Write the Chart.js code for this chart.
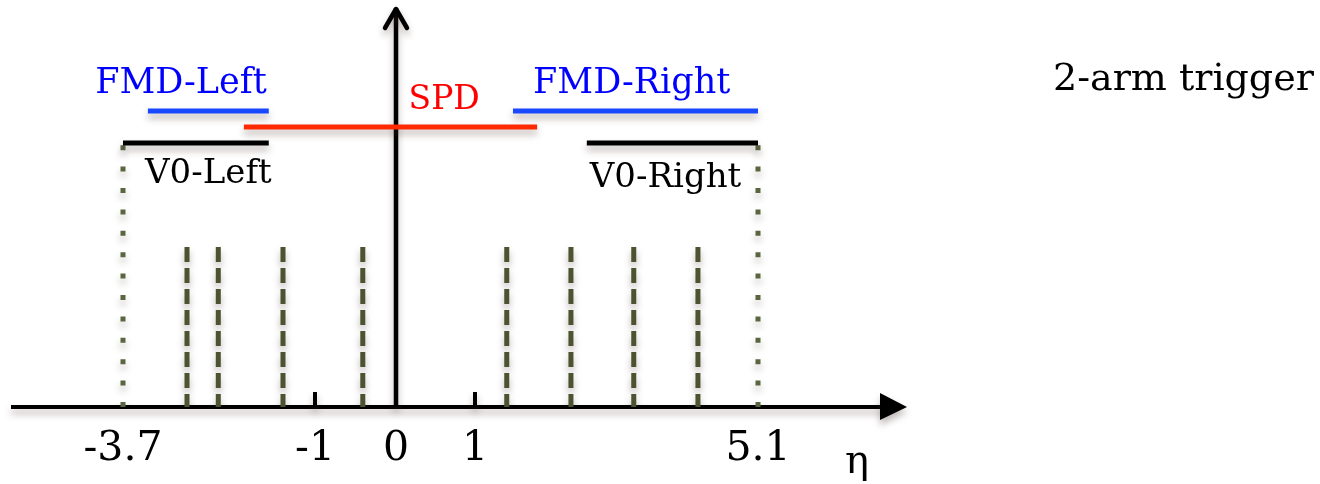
<!DOCTYPE html>
<html>
<head>
<meta charset="utf-8">
<script src="https://cdn.jsdelivr.net/npm/chart.js@4/dist/chart.umd.min.js"></script>
<style>
  html, body { margin: 0; padding: 0; background: #fff; }
  #wrap { width: 1320px; height: 484px; position: relative; }
</style>
</head>
<body>
<div id="wrap"><canvas id="myChart"></canvas></div>
<script>
// detector coverage in pseudorapidity
const detectors = ['FMD-Left', 'SPD', 'FMD-Right', 'V0-Left', 'V0-Right'];
const etaFrom = [-3.35, -2.0, 1.55, -3.7, 2.62];
const etaTo = [-1.65, 1.9, 5.1, -1.65, 5.1];
const level = [74, 70, 74, 66, 66];
const lineColors = ['#1848ff', '#ff2a00', '#1848ff', '#000000', '#000000'];
const textColors = ['#0000ff', '#ff0000', '#0000ff', '#000000', '#000000'];

// where each name sits (eta, height)
const labelEta = [-2.885, 0.61, 3.27, -2.5, 3.76];
const labelY = [78.5, 74.5, 78.5, 56, 55];

// ring boundaries (dashed) and outer edges (dotted)
const ringEta = [-2.8, -2.36, -1.45, -0.41, 1.46, 2.39, 3.3, 4.23];
const ringTop = 40;
const edgeEta = [-3.7, 5.1];
const edgeTop = 66;

const tickEta = [-3.7, -1, 0, 1, 5.1];
const tickLabels = ['-3.7', '-1', '0', '1', '5.1'];

const serif = "'DejaVu Serif', 'Liberation Serif', serif";

// the eta axis is drawn squeezed past |eta| = 1: piecewise map eta -> drawing span
const spanStops = [-3.4125, -1.0125, 0, 0.9875, 4.525];
function etaToSpan(v) {
  const k = tickEta, s = spanStops;
  let i = 0;
  if (v >= k[k.length - 1]) i = k.length - 2;
  else while (i < k.length - 2 && v > k[i + 1]) i++;
  return s[i] + (v - k[i]) * (s[i + 1] - s[i]) / (k[i + 1] - k[i]);
}
function spanToEta(u) {
  const k = tickEta, s = spanStops;
  let i = 0;
  if (u >= s[s.length - 1]) i = s.length - 2;
  else while (i < s.length - 2 && u > s[i + 1]) i++;
  return k[i] + (u - s[i]) * (k[i + 1] - k[i]) / (s[i + 1] - s[i]);
}

class EtaScale extends Chart.LinearScale {
  getPixelForValue(value) {
    return super.getPixelForValue(etaToSpan(value));
  }
  getValueForPixel(pixel) {
    return spanToEta(super.getValueForPixel(pixel));
  }
}
EtaScale.id = 'eta';
EtaScale.defaults = Chart.LinearScale.defaults;
Chart.register(EtaScale);

const datasets = [];
detectors.forEach(function(name, i) {
  datasets.push({
    label: name,
    data: [{x: etaFrom[i], y: level[i]}, {x: etaTo[i], y: level[i]}],
    borderColor: lineColors[i],
    borderWidth: 5,
    borderCapStyle: 'butt'
  });
});
ringEta.forEach(function(e) {
  datasets.push({
    label: 'ring',
    data: [{x: e, y: ringTop}, {x: e, y: 0}],
    borderColor: '#4b5330',
    borderWidth: 5,
    borderDash: [15, 6],
    borderCapStyle: 'butt'
  });
});
edgeEta.forEach(function(e) {
  datasets.push({
    label: 'edge',
    data: [{x: e, y: 0}, {x: e, y: edgeTop}],
    borderColor: '#5a6640',
    borderWidth: 5,
    borderDash: [5, 16.4],
    borderCapStyle: 'butt'
  });
});

function shadow(ctx) {
  ctx.shadowColor = 'rgba(70, 50, 40, 0.35)';
  ctx.shadowBlur = 7;
  ctx.shadowOffsetX = 0;
  ctx.shadowOffsetY = 5;
}

const sketch = {
  id: 'sketch',
  beforeDatasetsDraw(chart) {
    const ctx = chart.ctx;
    const xs = chart.scales.x, ys = chart.scales.y;
    const a = chart.chartArea;
    const x0 = xs.getPixelForValue(0);
    const y0 = ys.getPixelForValue(0);
    ctx.save();
    shadow(ctx);
    ctx.strokeStyle = '#000';
    ctx.fillStyle = '#000';
    // horizontal axis with filled head
    ctx.lineWidth = 4;
    ctx.beginPath();
    ctx.moveTo(a.left, y0);
    ctx.lineTo(a.right - 22, y0);
    ctx.stroke();
    ctx.beginPath();
    ctx.moveTo(a.right - 27, y0 - 14);
    ctx.lineTo(a.right, y0);
    ctx.lineTo(a.right - 27, y0 + 13);
    ctx.closePath();
    ctx.fill();
    // small ticks at +-1
    [-1, 1].forEach(function(v) {
      const px = xs.getPixelForValue(v);
      ctx.beginPath();
      ctx.moveTo(px, y0);
      ctx.lineTo(px, y0 - 15);
      ctx.stroke();
    });
    // vertical axis with open head
    ctx.lineWidth = 4.5;
    ctx.beginPath();
    ctx.moveTo(x0, y0);
    ctx.lineTo(x0, a.top + 1);
    ctx.stroke();
    ctx.lineJoin = 'round';
    ctx.lineCap = 'round';
    ctx.beginPath();
    ctx.moveTo(x0 - 11, a.top + 21);
    ctx.lineTo(x0, a.top + 2);
    ctx.lineTo(x0 + 11, a.top + 21);
    ctx.stroke();
    ctx.restore();
    ctx.save();
    shadow(ctx);
  },
  afterDatasetsDraw(chart) {
    const ctx = chart.ctx;
    ctx.restore();
    const xs = chart.scales.x, ys = chart.scales.y;
    ctx.save();
    ctx.textBaseline = 'alphabetic';
    ctx.textAlign = 'center';
    detectors.forEach(function(name, i) {
      ctx.font = (name.indexOf('FMD') === 0 ? 35 : name === 'SPD' ? 33 : 34) + 'px ' + serif;
      ctx.fillStyle = textColors[i];
      ctx.fillText(name, xs.getPixelForValue(labelEta[i]), ys.getPixelForValue(labelY[i]));
    });
    ctx.fillStyle = '#000';
    ctx.font = '40px ' + serif;
    ctx.fillText('η', chart.chartArea.right - 50, ys.getPixelForValue(0) + 66);
    ctx.textAlign = 'left';
    ctx.font = '38px ' + serif;
    ctx.fillText('2-arm trigger', 1053, 90);
    ctx.restore();
  }
};

const ctx = document.getElementById('myChart').getContext('2d');
const myChart = new Chart(ctx, {
  type: 'scatter',
  data: { datasets: datasets },
  options: {
    responsive: true,
    maintainAspectRatio: false,
    animation: false,
    events: [],
    showLine: true,
    elements: { point: { radius: 0 } },
    layout: { padding: { left: 11, right: 413, top: 7, bottom: 10 } },
    plugins: { legend: { display: false }, tooltip: { enabled: false } },
    scales: {
      x: {
        type: 'eta',
        min: -4.8125,
        max: 6.3875,
        grid: { display: false, drawTicks: false },
        border: { display: false },
        afterBuildTicks: function(scale) {
          scale.ticks = tickEta.map(function(v) { return {value: v}; });
        },
        afterFit: function(scale) { scale.height = 67; },
        ticks: {
          autoSkip: false,
          maxRotation: 0,
          padding: 18,
          color: '#000',
          font: { family: serif, size: 41 },
          callback: function(v, i) { return tickLabels[i]; }
        }
      },
      y: { display: false, min: 0, max: 100 }
    }
  },
  plugins: [sketch]
});
</script>
</body>
</html>
